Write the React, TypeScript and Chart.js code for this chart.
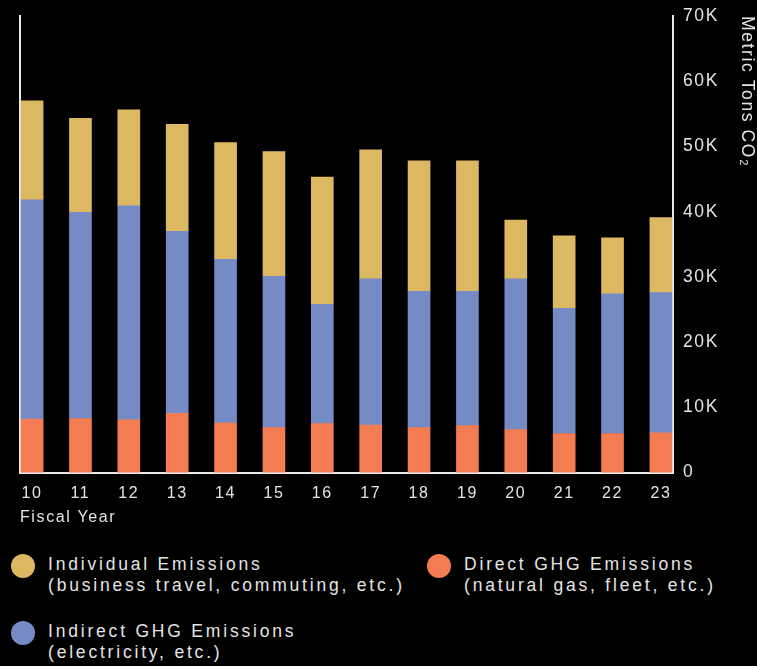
import React, { useEffect, useRef } from 'react';
import { Chart, registerables } from 'chart.js';

Chart.register(...registerables);

// ---- Data ----
const fiscalYears = [10, 11, 12, 13, 14, 15, 16, 17, 18, 19, 20, 21, 22, 23];
const directGHG = [8200, 8300, 8100, 9100, 7600, 6900, 7500, 7300, 6900, 7200, 6600, 6000, 6000, 6100];
const indirectGHG = [33600, 31600, 32800, 27900, 25100, 23200, 18300, 22400, 20900, 20600, 23100, 19200, 21400, 21500];
const individualEmissions = [15200, 14400, 14700, 16400, 17900, 19100, 19500, 19800, 20000, 20000, 9000, 11100, 8600, 11500];
const yTickValues = [0, 10000, 20000, 30000, 40000, 50000, 60000, 70000];

const COLOR_DIRECT = '#f47c52';
const COLOR_INDIRECT = '#768bc6';
const COLOR_INDIVIDUAL = '#dcb863';
const TEXT_COLOR = '#e4e4e4';
const LINE_COLOR = '#e8e8e8';
const FONT = "'Liberation Sans', Arial, sans-serif";

const legendItems = [
  { color: COLOR_INDIVIDUAL, line1: 'Individual Emissions', line2: '(business travel, commuting, etc.)', left: 11, top: 554 },
  { color: COLOR_DIRECT, line1: 'Direct GHG Emissions', line2: '(natural gas, fleet, etc.)', left: 427, top: 554 },
  { color: COLOR_INDIRECT, line1: 'Indirect GHG Emissions', line2: '(electricity, etc.)', left: 11, top: 621 },
];

const spacingPlugin = {
  id: 'letterSpacingPlugin',
  beforeUpdate(chart: any) {
    chart.ctx.letterSpacing = '1.6px';
  },
  beforeLayout(chart: any) {
    chart.ctx.letterSpacing = '1.6px';
  },
  beforeDraw(chart: any) {
    chart.ctx.letterSpacing = '1.6px';
  },
};

export default function App() {
  const canvasRef = useRef<HTMLCanvasElement | null>(null);

  useEffect(() => {
    document.body.style.background = '#000';
    const canvas = canvasRef.current;
    if (!canvas) return;
    const toPoints = (arr: number[]) => fiscalYears.map((yr, i) => ({ x: yr, y: arr[i] }));

    const chart = new Chart(canvas, {
      type: 'bar',
      data: {
        datasets: [
          { label: 'Direct GHG Emissions', data: toPoints(directGHG), backgroundColor: COLOR_DIRECT, borderWidth: 0, barThickness: 22 },
          { label: 'Indirect GHG Emissions', data: toPoints(indirectGHG), backgroundColor: COLOR_INDIRECT, borderWidth: 0, barThickness: 22 },
          { label: 'Individual Emissions', data: toPoints(individualEmissions), backgroundColor: COLOR_INDIVIDUAL, borderWidth: 0, barThickness: 22 },
        ],
      } as any,
      plugins: [spacingPlugin as any],
      options: {
        animation: false,
        responsive: false,
        maintainAspectRatio: false,
        layout: { padding: { top: 16, left: 20, right: 0, bottom: 0 } },
        plugins: {
          legend: { display: false },
          tooltip: { enabled: false },
        },
        scales: {
          x: {
            type: 'linear',
            min: 9.75,
            max: 23.25,
            offset: false,
            stacked: true,
            afterBuildTicks: (axis: any) => {
              axis.ticks = fiscalYears.map((v) => ({ value: v }));
            },
            grid: { display: false },
            border: { display: true, color: LINE_COLOR, width: 2 },
            ticks: {
              color: TEXT_COLOR,
              font: { family: FONT, size: 16 },
              padding: 3,
              autoSkip: false,
              maxRotation: 0,
              callback: (v: any) => String(v),
            },
            title: {
              display: true,
              text: 'Fiscal Year',
              align: 'start',
              color: TEXT_COLOR,
              font: { family: FONT, size: 16 },
              padding: { top: 2, bottom: 4 },
            },
          },
          y: {
            position: 'right',
            min: 0,
            max: 70000,
            stacked: true,
            afterBuildTicks: (axis: any) => {
              axis.ticks = yTickValues.map((v) => ({ value: v }));
            },
            afterFit: (scale: any) => {
              scale.width = 84;
            },
            grid: { display: false },
            border: { display: true, color: LINE_COLOR, width: 2 },
            ticks: {
              color: TEXT_COLOR,
              font: { family: FONT, size: 17.5 },
              padding: 2,
              callback: (v: any) => (v === 0 ? '0' : v / 1000 + 'K'),
            },
            title: {
              display: true,
              text: 'Metric Tons CO₂',
              align: 'end',
              color: TEXT_COLOR,
              font: { family: FONT, size: 17.5 },
              padding: { top: 0, bottom: 0 },
            },
          },
          yLeft: {
            position: 'left',
            display: true,
            min: 0,
            max: 70000,
            grid: { display: false, drawTicks: false },
            ticks: { display: false },
            border: { display: true, color: LINE_COLOR, width: 2 },
            afterFit: (scale: any) => {
              scale.width = 0;
            },
          },
        },
      } as any,
    });

    return () => chart.destroy();
  }, []);

  return (
    <div style={{ position: 'absolute', left: 0, top: 0, width: 757, height: 666, background: '#000', overflow: 'hidden' }}>
      <canvas ref={canvasRef} width={757} height={531} style={{ position: 'absolute', left: 0, top: 0, width: 757, height: 531 }} />
      {legendItems.map((item) => (
        <div key={item.line1}>
          <div
            style={{
              position: 'absolute',
              left: item.left,
              top: item.top,
              width: 24,
              height: 24,
              borderRadius: '50%',
              background: item.color,
            }}
          />
          <div
            style={{
              position: 'absolute',
              left: item.left + 37,
              top: item.top,
              fontFamily: FONT,
              fontSize: 17.5,
              lineHeight: '21px',
              letterSpacing: '2.8px',
              color: TEXT_COLOR,
              whiteSpace: 'nowrap',
            }}
          >
            <div>{item.line1}</div>
            <div>{item.line2}</div>
          </div>
        </div>
      ))}
    </div>
  );
}
